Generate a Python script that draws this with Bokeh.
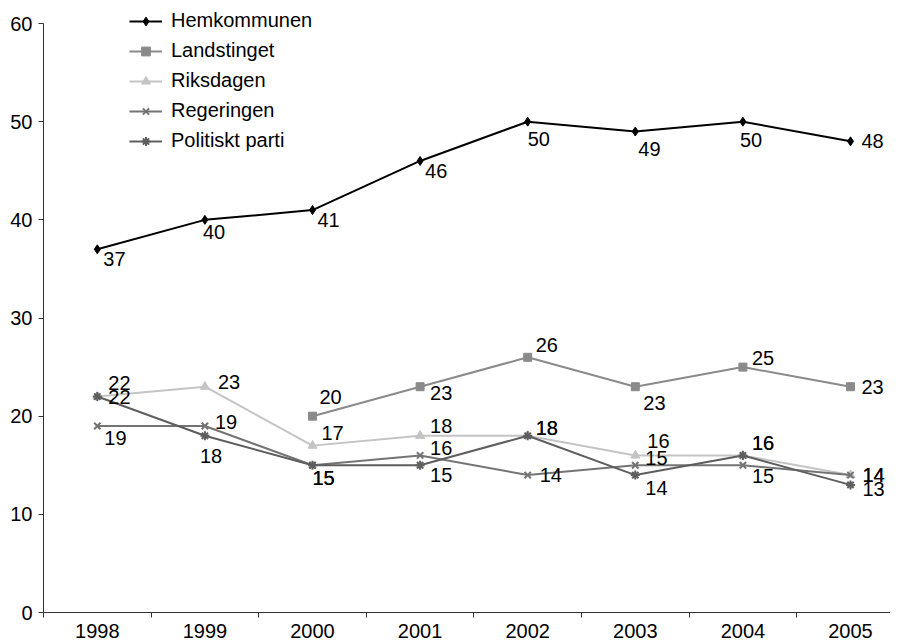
from bokeh.plotting import figure
from bokeh.models import Range1d, FixedTicker, Legend, LegendItem, ColumnDataSource
from bokeh.core.properties import value
from bokeh.embed import file_html
from bokeh.resources import INLINE
import math

years = [1998, 1999, 2000, 2001, 2002, 2003, 2004, 2005]
hemkommunen = [37, 40, 41, 46, 50, 49, 50, 48]
landstinget = [math.nan, math.nan, 20, 23, 26, 23, 25, 23]
riksdagen = [22, 23, 17, 18, 18, 16, 16, 14]
regeringen = [19, 19, 15, 16, 14, 15, 15, 14]
politiskt_parti = [22, 18, 15, 15, 18, 14, 16, 13]
y_ticks = [0, 10, 20, 30, 40, 50, 60]

# label offsets in screen pixels (dx right, dy down) - styling only
offsets = {
    "Hemkommunen": [(6, 10), (-2, 12), (5, 10), (5, 10), (0, 17), (3, 17), (-3, 18), (11, 0)],
    "Landstinget": [(0, 0), (0, 0), (7, -19), (10, 6), (8, -12), (8, 16), (9, -9), (11, 0)],
    "Riksdagen": [(11, -14), (13, -5), (9, -13), (10, -10), (8, -8), (12, -14), (9, -12), (12, 0)],
    "Regeringen": [(7, 12), (10, -4), (0, 13), (10, -7), (12, 0), (10, -7), (9, 11), (12, 0)],
    "Politiskt parti": [(11, 0), (-5, 20), (0, 13), (10, 10), (8, -8), (10, 13), (9, -12), (12, 4)],
}

series = [
    ("Hemkommunen", hemkommunen, "#000000", "diamond", 9),
    ("Landstinget", landstinget, "#8a8a8a", "square", 8),
    ("Riksdagen", riksdagen, "#c4c4c4", "triangle", 9),
    ("Regeringen", regeringen, "#747474", "x", 9),
    ("Politiskt parti", politiskt_parti, "#5e5e5e", "asterisk", 9),
]

FONT = "Liberation Sans"
FS = "20px"

W, H = 890, 640
LEFT = 43
AXIS_H = 29          # approximate height taken by the x axis
cat_px = 107.6
x_end = 1997.5 + (W - LEFT) / cat_px
frame_h = H - AXIS_H
px_per_unit = (frame_h - 23) / 60.0
y_end = 60 + 23 / px_per_unit

p = figure(width=W, height=H, output_backend="svg", toolbar_location=None,
           x_range=Range1d(1997.5, x_end), y_range=Range1d(0, y_end),
           min_border_left=LEFT, min_border_top=0, min_border_right=0, min_border_bottom=0)
p.outline_line_color = None
p.grid.visible = False
p.background_fill_color = "white"
p.border_fill_color = "white"

# axes
p.xaxis.ticker = FixedTicker(ticks=years, minor_ticks=[y - 0.5 for y in years] + [2005.5])
p.xaxis.major_tick_out = 0
p.xaxis.major_tick_in = 0
p.xaxis.minor_tick_out = 5
p.xaxis.minor_tick_in = 0
p.xaxis.major_label_standoff = 6
p.yaxis.ticker = FixedTicker(ticks=y_ticks)
p.yaxis.bounds = (0, 60)
p.yaxis.major_tick_out = 5
p.yaxis.major_tick_in = 0
p.yaxis.major_label_standoff = 6
for ax in (p.xaxis, p.yaxis):
    ax.axis_line_color = "#333333"
    ax.major_tick_line_color = "#333333"
    ax.minor_tick_line_color = "#333333"
    ax.major_label_text_font = FONT
    ax.major_label_text_font_size = FS
    ax.major_label_text_color = "black"
p.yaxis.minor_tick_line_color = None

items = []
for name, vals, color, marker, size in series:
    src = ColumnDataSource(dict(
        x=years, y=vals, lab=["" if (isinstance(v, float) and math.isnan(v)) else str(v) for v in vals],
        dx=[o[0] for o in offsets[name]], dy=[o[1] for o in offsets[name]],
    ))
    r1 = p.line("x", "y", source=src, line_color=color, line_width=2)
    r2 = p.scatter("x", "y", source=src, marker=marker, size=size, line_color=color,
                   fill_color=color, line_width=2 if marker in ("x", "asterisk") else 1)
    p.text("x", "y", text="lab", source=src, x_offset="dx", y_offset="dy",
           text_font=value(FONT), text_font_size=value(FS), text_align="left",
           text_baseline="middle", text_color="black")
    items.append(LegendItem(label=name, renderers=[r1, r2]))

legend = Legend(items=items, location=(86, frame_h - 151), orientation="vertical",
                glyph_width=33, glyph_height=22, label_standoff=9, spacing=7,
                padding=0, margin=0, border_line_color=None, background_fill_alpha=0,
                label_text_font=FONT, label_text_font_size=FS, label_text_color="black")
p.add_layout(legend, "center")

open("out.html", "w").write(file_html(p, INLINE))
